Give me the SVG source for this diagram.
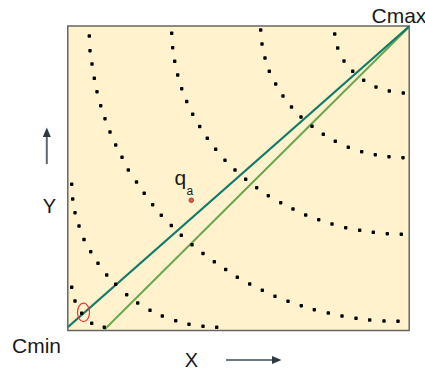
<svg xmlns="http://www.w3.org/2000/svg" xmlns:xlink="http://www.w3.org/1999/xlink" width="425" height="371" viewBox="0 0 425 371">
<style>
.lbl{font-family:"Liberation Sans",Arial,sans-serif;fill:#1a1a1a}
.dots use{fill:#000}
</style>
<defs>
<rect id="d" x="-1.7" y="-1.7" width="3.4" height="3.4" rx="0.8"/>
</defs>
<rect x="0" y="0" width="425" height="371" fill="#ffffff"/>
<g id="frame">
<rect x="67.8" y="26" width="341.4" height="304.5" fill="#fff2cc" stroke="#666666" stroke-width="1.5"/>
</g>
<g id="connectors">
<line x1="104" y1="330" x2="409" y2="27" stroke="#6aa84f" stroke-width="2"/>
<line x1="68" y1="327" x2="409" y2="26.5" stroke="#127a6a" stroke-width="2.3"/>
</g>
<g id="contours" class="dots">
<g id="t1">
<use href="#d" x="89.3" y="36"/><use href="#d" x="90" y="50.7"/><use href="#d" x="92" y="64"/><use href="#d" x="94.3" y="78.3"/><use href="#d" x="97" y="91.7"/><use href="#d" x="100.7" y="105.7"/><use href="#d" x="105" y="118.7"/><use href="#d" x="110" y="132"/><use href="#d" x="115.7" y="145"/><use href="#d" x="122" y="157.3"/><use href="#d" x="128.3" y="170"/><use href="#d" x="136.5" y="182"/><use href="#d" x="144.2" y="193.3"/><use href="#d" x="152.7" y="204.7"/><use href="#d" x="161.3" y="215.3"/><use href="#d" x="171.3" y="225.5"/><use href="#d" x="181.3" y="235.3"/><use href="#d" x="192" y="244.8"/><use href="#d" x="203" y="253.5"/><use href="#d" x="214.3" y="261.8"/><use href="#d" x="225.7" y="269.5"/><use href="#d" x="237.3" y="277.3"/><use href="#d" x="249.7" y="284"/><use href="#d" x="262.3" y="290.3"/><use href="#d" x="275" y="296.3"/><use href="#d" x="288" y="301.3"/><use href="#d" x="301.3" y="305.7"/><use href="#d" x="314.3" y="309.7"/><use href="#d" x="328.3" y="313"/><use href="#d" x="342" y="316"/><use href="#d" x="356" y="318.3"/><use href="#d" x="369.7" y="320"/><use href="#d" x="384" y="321"/><use href="#d" x="398" y="321.3"/>
</g>
<g id="t2">
<use href="#d" x="171.7" y="33.3"/><use href="#d" x="172.7" y="47.7"/><use href="#d" x="174.7" y="61.3"/><use href="#d" x="177.7" y="75"/><use href="#d" x="181.7" y="88.7"/><use href="#d" x="186.7" y="101.5"/><use href="#d" x="192.7" y="114.3"/><use href="#d" x="199.7" y="126.5"/><use href="#d" x="207.3" y="138.3"/><use href="#d" x="215.7" y="149.3"/><use href="#d" x="225" y="160.3"/><use href="#d" x="235" y="170"/><use href="#d" x="245.7" y="179.3"/><use href="#d" x="256.7" y="187.7"/><use href="#d" x="268.3" y="195.7"/><use href="#d" x="280.7" y="202.7"/><use href="#d" x="293" y="209"/><use href="#d" x="305.7" y="215"/><use href="#d" x="318.7" y="219.7"/><use href="#d" x="332" y="224"/><use href="#d" x="345.7" y="227.7"/><use href="#d" x="359.7" y="230.3"/><use href="#d" x="373.3" y="232.3"/><use href="#d" x="387.3" y="233.7"/><use href="#d" x="401.3" y="234.3"/>
</g>
<g id="t3">
<use href="#d" x="260.7" y="30"/><use href="#d" x="262" y="44"/><use href="#d" x="265" y="58"/><use href="#d" x="269.3" y="71.3"/><use href="#d" x="275.7" y="84"/><use href="#d" x="283" y="96"/><use href="#d" x="291.5" y="107"/><use href="#d" x="301" y="117"/><use href="#d" x="312" y="126.3"/><use href="#d" x="323.3" y="134.3"/><use href="#d" x="335.3" y="141.3"/><use href="#d" x="348.3" y="147.3"/><use href="#d" x="361.7" y="151.7"/><use href="#d" x="375.3" y="154.7"/><use href="#d" x="389" y="156.7"/><use href="#d" x="403" y="157.7"/>
</g>
<g id="t4">
<use href="#d" x="334.7" y="34"/><use href="#d" x="337.7" y="48"/><use href="#d" x="344" y="61"/><use href="#d" x="352.7" y="71.3"/><use href="#d" x="363.7" y="80.3"/><use href="#d" x="376" y="87"/><use href="#d" x="389.3" y="91"/><use href="#d" x="403.3" y="93"/>
</g>
<g id="c2">
<use href="#d" x="71.7" y="184.3"/><use href="#d" x="72.7" y="199"/><use href="#d" x="75" y="212.7"/><use href="#d" x="79" y="226"/><use href="#d" x="84" y="239.5"/><use href="#d" x="90.7" y="251.7"/><use href="#d" x="98" y="263.3"/><use href="#d" x="106.7" y="275"/><use href="#d" x="115.7" y="284.3"/><use href="#d" x="126.7" y="294.7"/><use href="#d" x="137.7" y="303"/><use href="#d" x="150" y="310.3"/><use href="#d" x="162.3" y="316"/><use href="#d" x="175.7" y="320.7"/><use href="#d" x="189" y="324.3"/><use href="#d" x="203" y="326.3"/><use href="#d" x="216.7" y="327.3"/>
</g>
<g id="c1">
<use href="#d" x="71.7" y="287.3"/><use href="#d" x="75" y="301"/><use href="#d" x="81.7" y="313.3"/><use href="#d" x="91.7" y="323.3"/><use href="#d" x="104.3" y="327.3"/>
</g>
</g>
<g id="marker-ring">
<ellipse cx="83.5" cy="312.4" rx="6" ry="9.3" fill="none" stroke="#e8343c" stroke-width="1.2"/>
</g>
<g id="qa">
<circle cx="191.3" cy="200.3" r="2.3" fill="#d2604e" stroke="#8c3b2c" stroke-width="0.8"/>
<text class="lbl" x="174.5" y="185" font-size="21">q</text>
<text class="lbl" x="186.5" y="195" font-size="12" fill="#333">a</text>
</g>
<g id="cmin">
<text class="lbl" x="12" y="353" font-size="21">Cmin</text>
</g>
<g id="cmax">
<text class="lbl" x="371.5" y="23" font-size="21">Cmax</text>
</g>
<g id="axis-y">
<line x1="46.8" y1="164" x2="46.8" y2="135" stroke="#5d6870" stroke-width="2"/>
<polygon points="46.8,127.5 42.8,137 50.8,137" fill="#2b3a42"/>
<text class="lbl" x="49.5" y="213" font-size="20" text-anchor="middle">Y</text>
</g>
<g id="axis-x">
<line x1="226" y1="360" x2="273" y2="360" stroke="#3d4a52" stroke-width="1.6"/>
<polygon points="281.5,360 272,356 272,364" fill="#2b3a42"/>
<text class="lbl" x="191.5" y="367" font-size="20" text-anchor="middle">X</text>
</g>
</svg>
